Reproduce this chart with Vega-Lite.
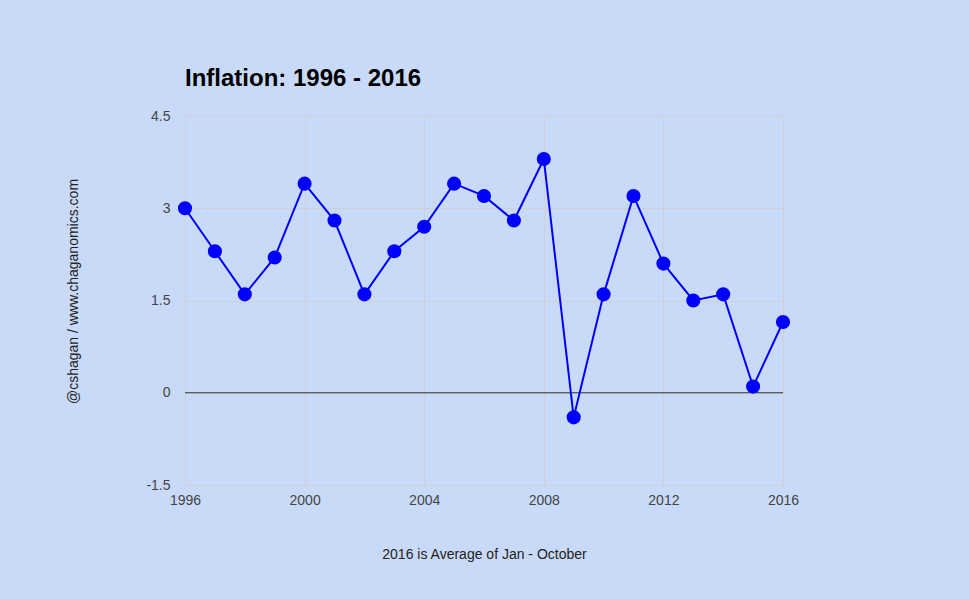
{
  "$schema": "https://vega.github.io/schema/vega-lite/v6.json",
  "autosize": {"type": "none"},
  "width": 598,
  "height": 369,
  "padding": {"left": 185, "top": 116, "right": 186, "bottom": 114},
  "background": "#c9daf8",
  "config": {
    "view": {"stroke": null},
    "font": "Liberation Sans",
    "axis": {"gridColor": "#d0d0d4", "gridWidth": 1, "domain": false, "ticks": false, "labelColor": "#444444", "labelFontSize": 14, "titleColor": "#222222", "titleFontSize": 14, "titleFontWeight": "normal", "labelFont": "Liberation Sans", "titleFont": "Liberation Sans", "labelFlush": false, "labelOverlap": false}
  },
  "title": {"text": "Inflation: 1996 - 2016", "anchor": "start", "frame": "group", "fontSize": 24, "fontWeight": "bold", "color": "#000000", "offset": 18, "font": "Liberation Sans"},
  "data": {"values": [
    {"year": 1996, "inflation": 3.0},
    {"year": 1997, "inflation": 2.3},
    {"year": 1998, "inflation": 1.6},
    {"year": 1999, "inflation": 2.2},
    {"year": 2000, "inflation": 3.4},
    {"year": 2001, "inflation": 2.8},
    {"year": 2002, "inflation": 1.6},
    {"year": 2003, "inflation": 2.3},
    {"year": 2004, "inflation": 2.7},
    {"year": 2005, "inflation": 3.4},
    {"year": 2006, "inflation": 3.2},
    {"year": 2007, "inflation": 2.8},
    {"year": 2008, "inflation": 3.8},
    {"year": 2009, "inflation": -0.4},
    {"year": 2010, "inflation": 1.6},
    {"year": 2011, "inflation": 3.2},
    {"year": 2012, "inflation": 2.1},
    {"year": 2013, "inflation": 1.5},
    {"year": 2014, "inflation": 1.6},
    {"year": 2015, "inflation": 0.1},
    {"year": 2016, "inflation": 1.15}
  ]},
  "encoding": {
    "x": {"field": "year", "type": "quantitative", "scale": {"domain": [1996, 2016], "nice": false, "zero": false},
      "axis": {"values": [1996, 2000, 2004, 2008, 2012, 2016], "format": "d", "labelPadding": 8, "title": "2016 is Average of Jan - October", "titleY": 69, "titleBaseline": "middle"}},
    "y": {"field": "inflation", "type": "quantitative", "scale": {"domain": [-1.5, 4.5], "nice": false, "zero": false},
      "axis": {"values": [-1.5, 0, 1.5, 3, 4.5], "labelExpr": "datum.value < 0 ? '-' + format(-datum.value, '.1~f') : format(datum.value, '.1~f')", "labelPadding": 15, "title": "@cshagan / www.chaganomics.com", "titleX": -112, "titleY": 175, "titleBaseline": "middle", "titleAlign": "center"}}
  },
  "layer": [
    {"mark": {"type": "rule", "color": "#333333", "strokeWidth": 1}, "data": {"values": [{"z": 0}]}, "encoding": {"y": {"field": "z", "type": "quantitative"}, "x": null}},
    {"mark": {"type": "line", "color": "#0000ff", "strokeWidth": 2}},
    {"mark": {"type": "point", "filled": true, "color": "#0000ff", "opacity": 1, "size": 200}}
  ]
}
